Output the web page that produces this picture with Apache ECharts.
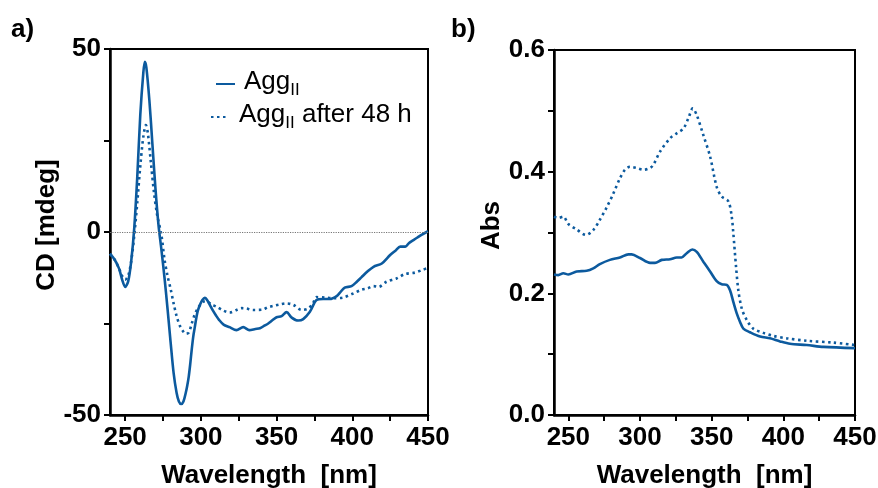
<!DOCTYPE html>
<html>
<head>
<meta charset="utf-8">
<script src="https://cdn.jsdelivr.net/npm/echarts@6/dist/echarts.min.js"></script>
<style>
  html, body { margin: 0; padding: 0; background: #fff; }
  #chart { width: 878px; height: 488px; }
</style>
</head>
<body>
<div id="chart"></div>
<script>
// ---- Panel a) CD spectra ----
const cdAggWl = [240, 243, 246, 248, 250, 252, 254, 256, 258, 260, 262, 263, 264, 266, 268, 270, 272, 274, 276, 278,
  280, 282, 284, 285.5, 287, 288.5, 290, 291, 292, 293, 294, 295, 296, 297, 298, 299.5, 301, 302.6, 304, 306, 308, 310,
  312, 315, 319, 323.5, 328, 332, 336, 339, 342, 344.5, 347, 350, 353.3, 356.6, 360, 364.3, 367.6, 372, 376.4, 380.8,
  385.3, 389.7, 392, 395, 399.5, 403, 406, 410, 414, 419.5, 425, 428.5, 431.7, 435, 437.5, 440.4, 443, 446, 450];
const cdAgg = [-6, -7.5, -10, -13, -15, -13.5, -8, 1, 15, 32, 43.5, 46.5, 45, 36, 24, 12, 2, -5, -12.5, -21,
  -30, -38.5, -44, -46.3, -47, -46.3, -44, -42, -39.5, -36, -32, -28.5, -26, -23.5, -21.5, -19.8, -18.6, -18, -18.5, -20, -21.5, -22.8,
  -24, -25.3, -26, -26.8, -26, -26.8, -26.5, -26.3, -25.6, -25, -24.2, -23.3, -23, -21.9, -23.4, -24.2, -23.8, -21.8, -18.6, -18.3,
  -18.3, -17.5, -16.5, -15.2, -14.8, -13.6, -12.4, -10.8, -9.5, -8.6, -6.3, -5.1, -4.0, -4.0, -3.0, -2.2, -1.5, -0.7, 0.2];

const cdAgg48Wl = [240, 243, 246, 248, 250, 252, 254, 256, 258, 260, 262, 263.7, 265, 267, 269, 271, 274, 276, 278,
  280, 282, 284, 286, 288, 290, 292, 294, 296, 298, 300, 302, 304, 307, 310.3, 315, 319, 323.6, 327, 330, 334.5, 341,
  344, 347.7, 352, 356.6, 361, 366.5, 370.9, 374, 376.4, 381.9, 387.4, 394, 400.6, 406, 410, 414, 417.3, 422.6, 429.2,
  434.7, 441.3, 446, 450];
const cdAgg48 = [-6, -7.5, -10, -12, -13, -12, -8, -1, 8, 18, 26, 29.2, 27, 19, 11, 5, -1, -7.5, -12,
  -15.5, -19.5, -23, -25.5, -27, -27.8, -27.5, -25, -22.5, -20.8, -19.8, -19, -19, -19.8, -20.4, -21.5, -22, -21.3, -20.8, -20.9, -21.3, -21.2,
  -20.6, -20.2, -19.8, -19.5, -19.9, -21.3, -20.9, -19.5, -17.8, -17.9, -18.1, -17.9, -16.8, -15.8, -15.4, -14.8, -15, -13.6, -12.7,
  -11.5, -11.1, -10.4, -9.8];

// ---- Panel b) absorption spectra ----
const absAggWl = [240, 243, 246.5, 250, 255.8, 262.8, 267.4, 272, 279, 286, 291.9, 294.2, 300, 307, 310.5, 315.2, 321,
  325.6, 329, 332.6, 336.5, 339.6, 344.2, 348.9, 353.5, 357, 360.5, 362.8, 365.1, 367.5, 369.8, 372.1, 376.8, 383.8,
  390.7, 397.7, 404.7, 416.3, 428, 450];
const absAgg = [0.231, 0.230, 0.233, 0.231, 0.236, 0.237, 0.241, 0.248, 0.255, 0.259, 0.264, 0.264, 0.258, 0.250, 0.250, 0.255, 0.256,
  0.259, 0.259, 0.266, 0.272, 0.268, 0.252, 0.236, 0.220, 0.215, 0.214, 0.205, 0.186, 0.167, 0.153, 0.142, 0.136, 0.129,
  0.126, 0.121, 0.117, 0.115, 0.112, 0.110];

const absAgg48Wl = [240, 243, 246.5, 250, 255.8, 262.3, 267.4, 272, 276.7, 281.4, 286, 289.5, 293, 297.7, 302.3, 307,
  309.3, 314, 321, 325.6, 330.3, 333.8, 336.8, 339.6, 344.2, 348.9, 353.5, 357, 361.7, 364, 365.1, 367, 368.6, 371,
  374.5, 379, 386, 393, 402.4, 416.3, 435, 450];
const absAgg48 = [0.326, 0.324, 0.326, 0.314, 0.305, 0.296, 0.304, 0.321, 0.341, 0.364, 0.389, 0.403, 0.408, 0.406, 0.403, 0.406,
  0.411, 0.433, 0.455, 0.463, 0.471, 0.488, 0.504, 0.493, 0.460, 0.425, 0.375, 0.359, 0.351, 0.326, 0.299, 0.244, 0.205, 0.175,
  0.156, 0.142, 0.135, 0.130, 0.126, 0.122, 0.119, 0.115];

// ---- Axis ticks and labels ----
const wlTicks = [250, 275, 300, 325, 350, 375, 400, 425, 450];
const wlLabels = [250, 300, 350, 400, 450];
const cdTicks = [-50, -25, 0, 25, 50];
const cdLabels = [-50, 0, 50];
const absTicks = [0, 0.1, 0.2, 0.3, 0.4, 0.5, 0.6];
const absLabels = [0, 0.2, 0.4, 0.6];

const zip = (xs, ys) => xs.map((x, i) => [x, ys[i]]);

const FONT = '"Liberation Sans", Arial, Helvetica, sans-serif';
const BLUE = '#0c5a9e';
const DOT = [2.5, 3.5];

const tickLabel = { fontFamily: FONT, fontSize: 26, fontWeight: 'bold', color: '#000' };
const titleFont = { fontFamily: FONT, fontSize: 26, fontWeight: 'bold', color: '#000' };

function xAxisCfg(gridIndex) {
  return {
    type: 'value', gridIndex, min: 240, max: 450,
    name: 'Wavelength  [nm]', nameLocation: 'middle', nameGap: 48,
    nameTextStyle: titleFont,
    axisLine: { show: true, onZero: false, lineStyle: { color: '#000', width: 2.5 } },
    axisTick: { show: true, length: 6, lineStyle: { color: '#000', width: 2 }, customValues: wlTicks },
    axisLabel: Object.assign({ margin: 10, customValues: wlLabels }, tickLabel),
    splitLine: { show: false }
  };
}

function yAxisCfg(gridIndex, name, min, max, ticks, labels, fmt) {
  return {
    type: 'value', gridIndex, min, max,
    name, nameLocation: 'middle', nameGap: 48, nameRotate: 90,
    nameTextStyle: Object.assign({ padding: [0, 0, 0, 14] }, titleFont),
    axisLine: { show: true, onZero: false, lineStyle: { color: '#000', width: 2.5 } },
    axisTick: { show: true, length: 6, lineStyle: { color: '#000', width: 2 }, customValues: ticks },
    axisLabel: Object.assign({ margin: 9, customValues: labels, formatter: fmt }, tickLabel),
    splitLine: { show: false }
  };
}

// Legend text with a subscript "II"
const legendRich = {
  m: { fontFamily: FONT, fontSize: 26, color: '#000', lineHeight: 30, verticalAlign: 'top' },
  s: { fontFamily: FONT, fontSize: 17, color: '#000', lineHeight: 17, verticalAlign: 'bottom', padding: [17, 0, 0, 0] }
};

const chart = echarts.init(document.getElementById('chart'), null, { renderer: 'canvas' });

chart.setOption({
  animation: false,
  backgroundColor: '#fff',
  title: [
    { text: 'a)', left: 6, top: 12, textStyle: titleFont },
    { text: 'b)', left: 446, top: 12, textStyle: titleFont }
  ],
  grid: [
    { left: 110, top: 49, width: 318, height: 366, outerBoundsMode: 'none', containLabel: false,
      show: true, borderColor: '#000', borderWidth: 2, backgroundColor: 'transparent' },
    { left: 554, top: 50, width: 301, height: 365, outerBoundsMode: 'none', containLabel: false,
      show: true, borderColor: '#000', borderWidth: 2, backgroundColor: 'transparent' }
  ],
  legend: [
    {
      data: ['AggII'], orient: 'vertical', left: 210, top: 60,
      itemWidth: 19, itemHeight: 14, itemStyle: { opacity: 0 },
      formatter: () => '{m|Agg}{s|II}',
      textStyle: { rich: legendRich, padding: [0, 0, 0, 4] }
    },
    {
      data: ['AggII after 48 h'], orient: 'vertical', left: 205, top: 93,
      itemWidth: 18, itemHeight: 14, itemStyle: { opacity: 0 },
      formatter: () => '{m|Agg}{s|II}{m| after 48 h}',
      textStyle: { rich: legendRich, padding: [0, 0, 0, 5] }
    }
  ],
  xAxis: [xAxisCfg(0), xAxisCfg(1)],
  yAxis: [
    yAxisCfg(0, 'CD [mdeg]', -50, 50, cdTicks, cdLabels, v => String(Math.round(v))),
    yAxisCfg(1, 'Abs', 0, 0.6, absTicks, absLabels, v => v.toFixed(1))
  ],
  series: [
    {
      name: 'AggII', type: 'line', xAxisIndex: 0, yAxisIndex: 0,
      data: zip(cdAggWl, cdAgg), smooth: 0.3, symbol: 'none', z: 3,
      lineStyle: { color: BLUE, width: 2.6 }, itemStyle: { color: BLUE },
      markLine: {
        silent: true, symbol: 'none', label: { show: false },
        lineStyle: { color: '#777', width: 1, type: [1.2, 1.2] },
        data: [{ yAxis: 0 }]
      }
    },
    {
      name: 'AggII after 48 h', type: 'line', xAxisIndex: 0, yAxisIndex: 0,
      data: zip(cdAgg48Wl, cdAgg48), smooth: 0.3, symbol: 'none', z: 2,
      lineStyle: { color: BLUE, width: 2.6, type: DOT }, itemStyle: { color: BLUE }
    },
    {
      name: 'AggII', type: 'line', xAxisIndex: 1, yAxisIndex: 1,
      data: zip(absAggWl, absAgg), smooth: 0.3, symbol: 'none', z: 3,
      lineStyle: { color: BLUE, width: 2.6 }, itemStyle: { color: BLUE }
    },
    {
      name: 'AggII after 48 h', type: 'line', xAxisIndex: 1, yAxisIndex: 1,
      data: zip(absAgg48Wl, absAgg48), smooth: 0.3, symbol: 'none', z: 2,
      lineStyle: { color: BLUE, width: 2.6, type: DOT }, itemStyle: { color: BLUE }
    }
  ]
});
</script>
</body>
</html>
